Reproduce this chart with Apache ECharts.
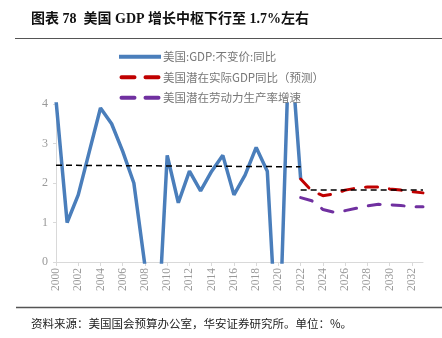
<!DOCTYPE html>
<html>
<head>
<meta charset="utf-8">
<script src="https://cdn.jsdelivr.net/npm/echarts@6/dist/echarts.min.js"></script>
<style>
  html, body { margin: 0; padding: 0; background: #fff; }
  #chart { width: 442px; height: 338px; }
</style>
</head>
<body>
<div id="chart"></div>
<script>
// Years on the x axis
const years = [];
for (let y = 2000; y <= 2033; y++) years.push(String(y));

// US real GDP, year-on-year (%), 2000-2022
const gdpYears = ['2000','2001','2002','2003','2004','2005','2006','2007','2008','2009','2010','2011',
                  '2012','2013','2014','2015','2016','2017','2018','2019','2020','2021','2022'];
const gdpValues = [4.1, 1.0, 1.7, 2.8, 3.9, 3.5, 2.8, 2.0, -0.1, -2.6, 2.7, 1.5,
                   2.3, 1.8, 2.3, 2.7, 1.7, 2.2, 2.9, 2.3, -2.8, 5.9, 2.1];

// Projections, 2022-2033
const projYears = ['2022','2023','2024','2025','2026','2027','2028','2029','2030','2031','2032','2033'];
const potentialGdp = [2.1, 1.8, 1.68, 1.72, 1.82, 1.87, 1.9, 1.9, 1.85, 1.82, 1.78, 1.75];
const laborProductivity = [1.63, 1.55, 1.33, 1.26, 1.3, 1.36, 1.42, 1.46, 1.45, 1.43, 1.4, 1.4];

// Average growth levels (reference lines)
const avgPastYears = ['2000', '2022'];
const avgPastValues = [2.45, 2.41];
const avgFutureYears = ['2022', '2033'];
const avgFutureValues = [1.82, 1.82];

const names = ['美国:GDP:不变价:同比', '美国潜在实际GDP同比（预测）', '美国潜在劳动力生产率增速'];

const pairs = (xs, vs) => xs.map((x, i) => [x, vs[i]]);

const serifFont = "'Liberation Serif', 'Noto Sans CJK SC', serif";
const cjkFont = "'Noto Sans CJK SC', 'Liberation Serif', sans-serif";

// Legend glyphs: a solid bar and a two-dash bar
const solidIcon = 'path://M0,0H42V4H0Z';
const dashIcon = 'path://M2,0H15A2,2 0 0 1 15,4H2A2,2 0 0 1 2,0Z M26,0H39A2,2 0 0 1 39,4H26A2,2 0 0 1 26,0Z';

const chart = echarts.init(document.getElementById('chart'));
chart.setOption({
  animation: false,
  backgroundColor: '#fff',
  title: [
    {
      text: '图表 78  美国 GDP 增长中枢下行至 1.7%左右',
      left: 26, top: 7,
      textStyle: { fontFamily: serifFont, fontSize: 14, fontWeight: 'bold', color: '#111' }
    },
    {
      text: '资料来源：美国国会预算办公室，华安证券研究所。单位：%。',
      left: 26, top: 313,
      textStyle: { fontFamily: cjkFont, fontSize: 11.5, fontWeight: 'normal', color: '#222' }
    }
  ],
  graphic: [
    { type: 'line', shape: { x1: 15, y1: 38.5, x2: 442, y2: 38.5 }, style: { stroke: '#555', lineWidth: 1 } },
    { type: 'line', shape: { x1: 16, y1: 307.5, x2: 442, y2: 307.5 }, style: { stroke: '#555', lineWidth: 1.5 } }
  ],
  legend: {
    orient: 'vertical',
    left: 114, top: 46,
    itemWidth: 42, itemHeight: 4, itemGap: 9,
    data: [
      { name: names[0], icon: solidIcon },
      { name: names[1], icon: dashIcon },
      { name: names[2], icon: dashIcon }
    ],
    textStyle: { fontFamily: cjkFont, fontSize: 11.5, color: '#777', padding: [0, 0, 0, -3] }
  },
  grid: { left: 56, right: 19, top: 104, bottom: 76 },
  xAxis: {
    type: 'category',
    data: years,
    boundaryGap: false,
    axisLine: { lineStyle: { color: '#d9d9d9', width: 1 } },
    axisTick: { show: true, interval: 1, length: 4, lineStyle: { color: '#d9d9d9' } },
    axisLabel: { interval: 1, rotate: 90, fontFamily: serifFont, fontSize: 11.5, color: '#999', margin: 6 }
  },
  yAxis: {
    type: 'value',
    min: 0, max: 4, interval: 1,
    splitLine: { show: false },
    axisLine: { show: true, lineStyle: { color: '#d9d9d9' } },
    axisTick: { show: true, length: 3, lineStyle: { color: '#d9d9d9' } },
    axisLabel: { fontFamily: serifFont, fontSize: 12, color: '#999', margin: 8 }
  },
  series: [
    {
      name: names[0], type: 'line', data: pairs(gdpYears, gdpValues),
      symbol: 'none', clip: true,
      lineStyle: { color: '#4a7ebb', width: 3.5 }, itemStyle: { color: '#4a7ebb' }
    },
    {
      name: names[1], type: 'line', data: pairs(projYears, potentialGdp),
      symbol: 'none', clip: true,
      lineStyle: { color: '#c00000', width: 3, cap: 'round', type: [12, 12] }, itemStyle: { color: '#c00000' }
    },
    {
      name: names[2], type: 'line', data: pairs(projYears, laborProductivity),
      symbol: 'none', clip: true,
      lineStyle: { color: '#7030a0', width: 3, cap: 'round', type: [12, 12] }, itemStyle: { color: '#7030a0' }
    },
    {
      name: 'avgPast', type: 'line', data: pairs(avgPastYears, avgPastValues),
      symbol: 'none', silent: true,
      lineStyle: { color: '#000', width: 1.5, type: [6, 4] }
    },
    {
      name: 'avgFuture', type: 'line', data: pairs(avgFutureYears, avgFutureValues),
      symbol: 'none', silent: true,
      lineStyle: { color: '#000', width: 1.5, type: [6, 4] }
    }
  ]
});
</script>
</body>
</html>
